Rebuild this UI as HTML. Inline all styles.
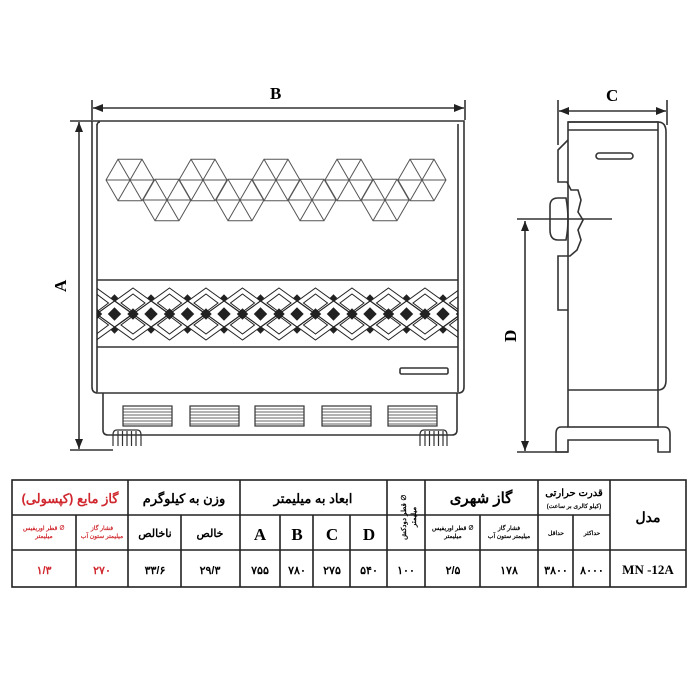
<!DOCTYPE html>
<html><head><meta charset="utf-8"><style>
body{margin:0;background:#fff;width:700px;height:700px;overflow:hidden}
svg{display:block}
text{font-family:"Liberation Serif",serif;font-weight:bold}
.fa{font-family:"Liberation Sans","Noto Sans CJK SC",sans-serif;font-weight:bold}
</style></head><body>
<svg id="s" width="700" height="700" viewBox="0 0 700 700" xmlns="http://www.w3.org/2000/svg">
<defs>
<marker id="ar" markerWidth="10" markerHeight="8" refX="10" refY="4" orient="auto-start-reverse" markerUnits="userSpaceOnUse"><path d="M0,0 L10,4 L0,8 Z" fill="#222"/></marker>
<clipPath id="band"><rect x="97" y="281" width="361" height="65"/></clipPath>
</defs>
<g stroke="#333" fill="none" stroke-width="1.6">
<!-- B dimension -->
<line x1="92" y1="100" x2="92" y2="120"/><line x1="465" y1="100" x2="465" y2="120"/>
<line x1="93" y1="108" x2="464" y2="108" marker-start="url(#ar)" marker-end="url(#ar)"/>
<!-- A dimension -->
<line x1="70" y1="121" x2="92" y2="121"/><line x1="70" y1="450" x2="113" y2="450"/>
<line x1="79" y1="122" x2="79" y2="449" marker-start="url(#ar)" marker-end="url(#ar)"/>
<!-- body -->
<path d="M92,121 H464 V387 Q464,393 458,393 H98 Q92,393 92,387 Z"/>
<path d="M97,126 Q97,122 100,122 M97,124 V392 M458,124 V392"/>
<line x1="97" y1="280" x2="458" y2="280"/><line x1="97" y1="347" x2="458" y2="347"/>
<rect x="400" y="368" width="48" height="6" rx="1.5"/>
<path d="M103,393 V430 Q103,435 108,435 H452 Q457,435 457,430 V393"/>
<!-- side view -->
<line x1="558" y1="100" x2="558" y2="145"/><line x1="667" y1="100" x2="667" y2="125"/>
<line x1="559" y1="111" x2="666" y2="111" marker-start="url(#ar)" marker-end="url(#ar)"/>
<path d="M568,122 H658 Q666,122 666,132 V380 Q666,390 658,390"/>
<rect x="568" y="122" width="90" height="305"/>
<line x1="568" y1="130" x2="658" y2="130"/>
<line x1="568" y1="390" x2="658" y2="390"/>
<rect x="596" y="153" width="37" height="6" rx="3"/>
<path d="M568,140 L558,150 V182 H567 L571,190 H578 L581,200 L578,212 L583,220 L578,230 L581,240 L577,250 L570,256 H558 V310 H568"/>
<path d="M558,198 Q550,198 550,206 V230 Q550,240 558,240 H566 Q570,220 566,198 Z"/>
<line x1="517" y1="219" x2="612" y2="219"/>
<line x1="525" y1="221" x2="525" y2="451" marker-start="url(#ar)" marker-end="url(#ar)"/>
<line x1="517" y1="452" x2="568" y2="452"/>
<path d="M568,427 H561 Q556,427 556,434 V452 H568 V440 H658 V452 H670 V434 Q670,427 664,427 H658"/>
</g>
<g id="hex" stroke="#555" stroke-width="1" fill="none"></g>
<g id="dia" stroke="#222" stroke-width="1" fill="none" clip-path="url(#band)"></g>
<g id="vents" stroke="#333" stroke-width="1.2" fill="none"></g>
<text x="270" y="99" font-size="17">B</text>
<text x="606" y="101" font-size="17">C</text>
<text transform="translate(66,292) rotate(-90)" font-size="17">A</text>
<text transform="translate(516,342) rotate(-90)" font-size="17">D</text>

<!-- table -->
<g stroke="#222" stroke-width="1.6" fill="none">
<rect x="12" y="480" width="674" height="107"/>
<line x1="12" y1="515" x2="610" y2="515"/>
<line x1="12" y1="550" x2="686" y2="550"/>
<line x1="128" y1="480" x2="128" y2="587"/><line x1="240" y1="480" x2="240" y2="587"/>
<line x1="387" y1="480" x2="387" y2="587"/><line x1="425" y1="480" x2="425" y2="587"/>
<line x1="538" y1="480" x2="538" y2="587"/><line x1="610" y1="480" x2="610" y2="587"/>
<line x1="76" y1="515" x2="76" y2="587"/><line x1="181" y1="515" x2="181" y2="587"/>
<line x1="280" y1="515" x2="280" y2="587"/><line x1="313" y1="515" x2="313" y2="587"/>
<line x1="350" y1="515" x2="350" y2="587"/><line x1="480" y1="515" x2="480" y2="587"/>
<line x1="573" y1="515" x2="573" y2="587"/>
</g>
<g class="fa" text-anchor="middle" font-size="13">
<text class="fa" x="70" y="503" fill="#d0282e" font-size="13">گاز مایع (کپسولی)</text>
<text class="fa" x="184" y="503">وزن به کیلوگرم</text>
<text class="fa" x="313" y="503">ابعاد به میلیمتر</text>
<text class="fa" x="481" y="503" font-size="15">گاز شهری</text>
<text class="fa" x="574" y="496" font-size="10">قدرت حرارتی</text>
<text class="fa" x="574" y="508" font-size="6">(کیلو کالری بر ساعت)</text>
<text class="fa" x="648" y="522" font-size="14">مدل</text>
<text class="fa" x="44" y="530" fill="#d0282e" font-size="6">قطر اوریفیس ∅</text>
<text class="fa" x="44" y="538" fill="#d0282e" font-size="6">میلیمتر</text>
<text class="fa" x="102" y="530" fill="#d0282e" font-size="6">فشار گاز</text>
<text class="fa" x="102" y="538" fill="#d0282e" font-size="6">میلیمتر ستون آب</text>
<text class="fa" x="155" y="537" font-size="11">ناخالص</text>
<text class="fa" x="210" y="537" font-size="11">خالص</text>
<text x="260" y="540" font-size="17">A</text>
<text x="297" y="540" font-size="17">B</text>
<text x="332" y="540" font-size="17">C</text>
<text x="369" y="540" font-size="17">D</text>
<text class="fa" transform="translate(406,517) rotate(-90)" font-size="7">قطر دودکش ∅</text>
<text class="fa" transform="translate(416,517) rotate(-90)" font-size="7">میلیمتر</text>
<text class="fa" x="453" y="530" font-size="6">قطر اوریفیس ∅</text>
<text class="fa" x="453" y="538" font-size="6">میلیمتر</text>
<text class="fa" x="509" y="530" font-size="6">فشار گاز</text>
<text class="fa" x="509" y="538" font-size="6">میلیمتر ستون آب</text>
<text class="fa" x="556" y="535" font-size="6">حداقل</text>
<text class="fa" x="592" y="535" font-size="6">حداکثر</text>
<text class="fa" x="44" y="574" fill="#d0282e" font-size="11">۱/۳</text>
<text class="fa" x="102" y="574" fill="#d0282e" font-size="11">۲۷۰</text>
<text class="fa" x="155" y="574" font-size="11">۳۳/۶</text>
<text class="fa" x="210" y="574" font-size="11">۲۹/۳</text>
<text class="fa" x="260" y="574" font-size="11">۷۵۵</text>
<text class="fa" x="297" y="574" font-size="11">۷۸۰</text>
<text class="fa" x="332" y="574" font-size="11">۲۷۵</text>
<text class="fa" x="369" y="574" font-size="11">۵۴۰</text>
<text class="fa" x="406" y="574" font-size="11">۱۰۰</text>
<text class="fa" x="453" y="574" font-size="11">۲/۵</text>
<text class="fa" x="509" y="574" font-size="11">۱۷۸</text>
<text class="fa" x="556" y="574" font-size="11">۳۸۰۰</text>
<text class="fa" x="592" y="574" font-size="11">۸۰۰۰</text>
<text x="648" y="574" font-size="13">MN -12A</text>
</g>
</svg>
<script>
var NS="http://www.w3.org/2000/svg";
function el(p,t,a){var e=document.createElementNS(NS,t);for(var k in a)e.setAttribute(k,a[k]);p.appendChild(e);return e;}
var hx=document.getElementById('hex');
function hexg(cx,cy,r){var h=r*0.866,pts=[];for(var i=0;i<6;i++){var a=i*Math.PI/3;pts.push((cx+r*Math.cos(a)).toFixed(1)+','+(cy+h/0.866*Math.sin(a)*0.866/0.866*0+ (cy-cy) + (i==0||i==3?0:(i<3?h:-h))).toFixed(1));}
 el(hx,'polygon',{points:pts.join(' ')});
 for(var i=0;i<3;i++){var p=pts[i].split(','),q=pts[i+3].split(',');el(hx,'line',{x1:p[0],y1:p[1],x2:q[0],y2:q[1]});}}
[130,203,276,349,422].forEach(function(x){hexg(x,180,24);});
[167,240,312,385].forEach(function(x){hexg(x,200,24);});
var dg=document.getElementById('dia');
for(var x=60;x<500;x+=36.5){
 el(dg,'polygon',{points:(x)+',288 '+(x+18)+',301 '+(x)+',314 '+(x-18)+',301'});
 el(dg,'polygon',{points:(x+18)+',301 '+(x+36)+',314 '+(x+18)+',327 '+(x)+',314'});
 el(dg,'polygon',{points:(x)+',314 '+(x+18)+',327 '+(x)+',340 '+(x-18)+',327'});
 el(dg,'polygon',{points:(x)+',294 '+(x+12)+',303 '+(x)+',312 '+(x-12)+',303'});
 el(dg,'polygon',{points:(x)+',316 '+(x+12)+',325 '+(x)+',334 '+(x-12)+',325'});
 el(dg,'polygon',{points:(x+18)+',308 '+(x+24)+',314 '+(x+18)+',320 '+(x+12)+',314',fill:'#222'});
 el(dg,'polygon',{points:(x)+',309 '+(x+5)+',314 '+(x)+',319 '+(x-5)+',314',fill:'#222'});
 el(dg,'polygon',{points:(x+18)+',295 '+(x+21)+',298 '+(x+18)+',301 '+(x+15)+',298',fill:'#222'});
 el(dg,'polygon',{points:(x+18)+',327 '+(x+21)+',330 '+(x+18)+',333 '+(x+15)+',330',fill:'#222'});
}
var vg=document.getElementById('vents');
[123,190,255,322,388].forEach(function(x){el(vg,'rect',{x:x,y:406,width:49,height:20});
 for(var y=409;y<426;y+=3)el(vg,'line',{x1:x,y1:y,x2:x+49,y2:y,'stroke-width':0.8});});
[[113,141],[420,447]].forEach(function(f){el(vg,'path',{d:'M'+f[0]+',446 V435 Q'+f[0]+',430 '+(f[0]+4)+',430 H'+(f[1]-4)+' Q'+f[1]+',430 '+f[1]+',435 V446'});
 for(var x=f[0]+5;x<f[1]-2;x+=4.5)el(vg,'line',{x1:x,y1:431,x2:x,y2:446});});
</script>
</body></html>
